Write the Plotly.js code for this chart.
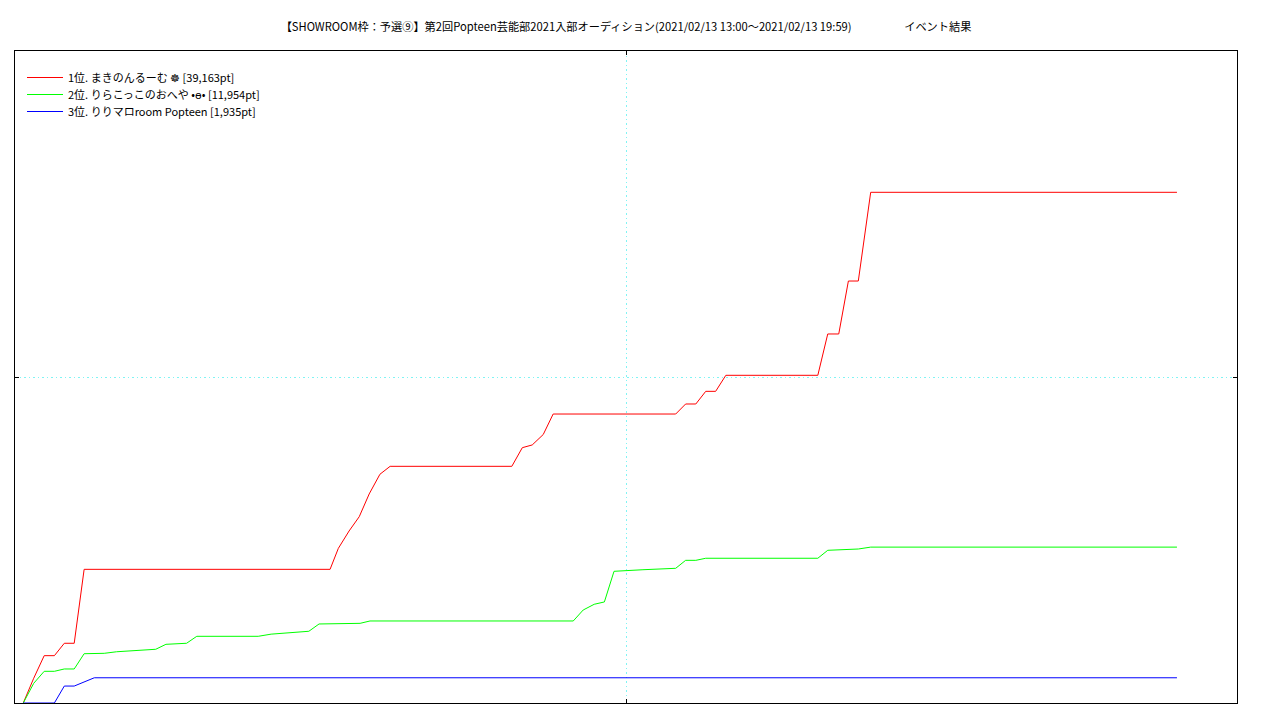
<!DOCTYPE html>
<html>
<head>
<meta charset="utf-8">
<script src="https://cdn.plot.ly/plotly-3.0.1.min.js"></script>
<style>html,body{margin:0;padding:0;background:#fff;}#chart{width:1280px;height:720px;}</style>
</head>
<body>
<div id="chart"></div>
<script>
// x: minutes since 2021/02/13 13:00
const seriesNames = [
  "1位. まきのんるーむ ☸ [39,163pt]",
  "2位. りらこっこのおへや •ө• [11,954pt]",
  "3位. りりマロroom Popteen [1,935pt]"
];
const seriesColors = ["#ff0000", "#00ff00", "#0000ff"];

const redX = [0, 3.8, 7.6, 11.3, 14.9, 18.5, 22.1, 111.4, 114.4, 118.3, 122.0, 125.6, 129.5, 133.2, 177.4, 181.2, 184.8, 188.8, 192.4, 236.9, 240.5, 244.2, 247.8, 251.4, 255.1, 288.5, 292.1, 296.1, 299.6, 303.2, 307.7, 418.9];
const redY = [0, 1900, 3630, 3630, 4580, 4580, 10250, 10250, 11860, 13190, 14290, 16030, 17540, 18150, 18150, 19580, 19790, 20590, 22160, 22160, 22930, 22930, 23900, 23900, 25130, 25130, 28300, 28300, 32360, 32360, 39163, 39163];

const greenX = [0, 3.8, 7.6, 11.3, 14.9, 18.5, 22.1, 29.4, 33.9, 48.1, 51.8, 59.3, 63.0, 85.3, 90.0, 95.6, 103.7, 107.4, 122.3, 125.9, 199.7, 203.3, 207.3, 211.0, 214.5, 225.0, 236.9, 240.5, 244.2, 247.8, 288.5, 292.1, 303.2, 307.7, 418.9];
const greenY = [0, 1510, 2430, 2430, 2610, 2610, 3780, 3810, 3930, 4120, 4500, 4580, 5115, 5115, 5280, 5390, 5500, 6060, 6110, 6290, 6290, 7130, 7570, 7750, 10100, 10220, 10330, 10940, 10940, 11100, 11100, 11710, 11810, 11954, 11954];

const blueX = [0, 11.3, 14.9, 18.5, 25.8, 418.9];
const blueY = [0, 0, 1300, 1300, 1935, 1935];

const xRange = [-3.0, 440.7];
const yRange = [0, 50000];
const sp = "&nbsp;".repeat(21);
const titleText = "【SHOWROOM枠：予選⑨】第2回Popteen芸能部2021入部オーディション(2021/02/13 13:00～2021/02/13 19:59)" + sp + "イベント結果";

const xs = [redX, greenX, blueX];
const ys = [redY, greenY, blueY];
const legendIds = ["legend", "legend2", "legend3"];
const traces = xs.map((x, i) => ({
  x: x, y: ys[i], type: "scatter", mode: "lines", name: seriesNames[i],
  legend: legendIds[i],
  line: {color: seriesColors[i], width: 1}
}));

const gridColor = "#80f4f4";
const axisCommon = {
  showline: true, linecolor: "#000", linewidth: 1, mirror: "ticks",
  ticks: "inside", ticklen: 4, tickcolor: "#000", tickwidth: 1,
  showticklabels: false, showgrid: true, gridcolor: gridColor, griddash: "1.5px,3px", gridwidth: 1,
  zeroline: false, tickmode: "array"
};

const fam = "'Noto Sans CJK JP', 'Noto Sans', sans-serif";
const legendBase = (offsetPx) => ({
  x: 7/1222, y: 1 - offsetPx/652, xanchor: "left", yanchor: "top", bgcolor: "rgba(0,0,0,0)", borderwidth: 0,
  font: {size: 11, color: "#000", family: fam}, itemwidth: 36
});
const layout = {
  width: 1280, height: 720,
  paper_bgcolor: "#fff", plot_bgcolor: "#fff",
  margin: {l: 15, r: 43, t: 51, b: 17, pad: 0},
  font: {family: fam, size: 11, color: "#000"},
  title: {text: titleText, x: 0.5, xref: "paper", xanchor: "center", y: 1 - 27/720, yref: "container", yanchor: "middle",
          font: {size: 11.2, color: "#000", family: fam}},
  xaxis: Object.assign({}, axisCommon, {range: xRange, tickvals: [(xRange[0] + xRange[1]) / 2]}),
  yaxis: Object.assign({}, axisCommon, {range: yRange, tickvals: [25000]}),
  showlegend: true,
  legend: legendBase(12),
  legend2: legendBase(29),
  legend3: legendBase(46)
};

Plotly.newPlot("chart", traces, layout, {staticPlot: true, displayModeBar: false});
</script>
</body>
</html>
